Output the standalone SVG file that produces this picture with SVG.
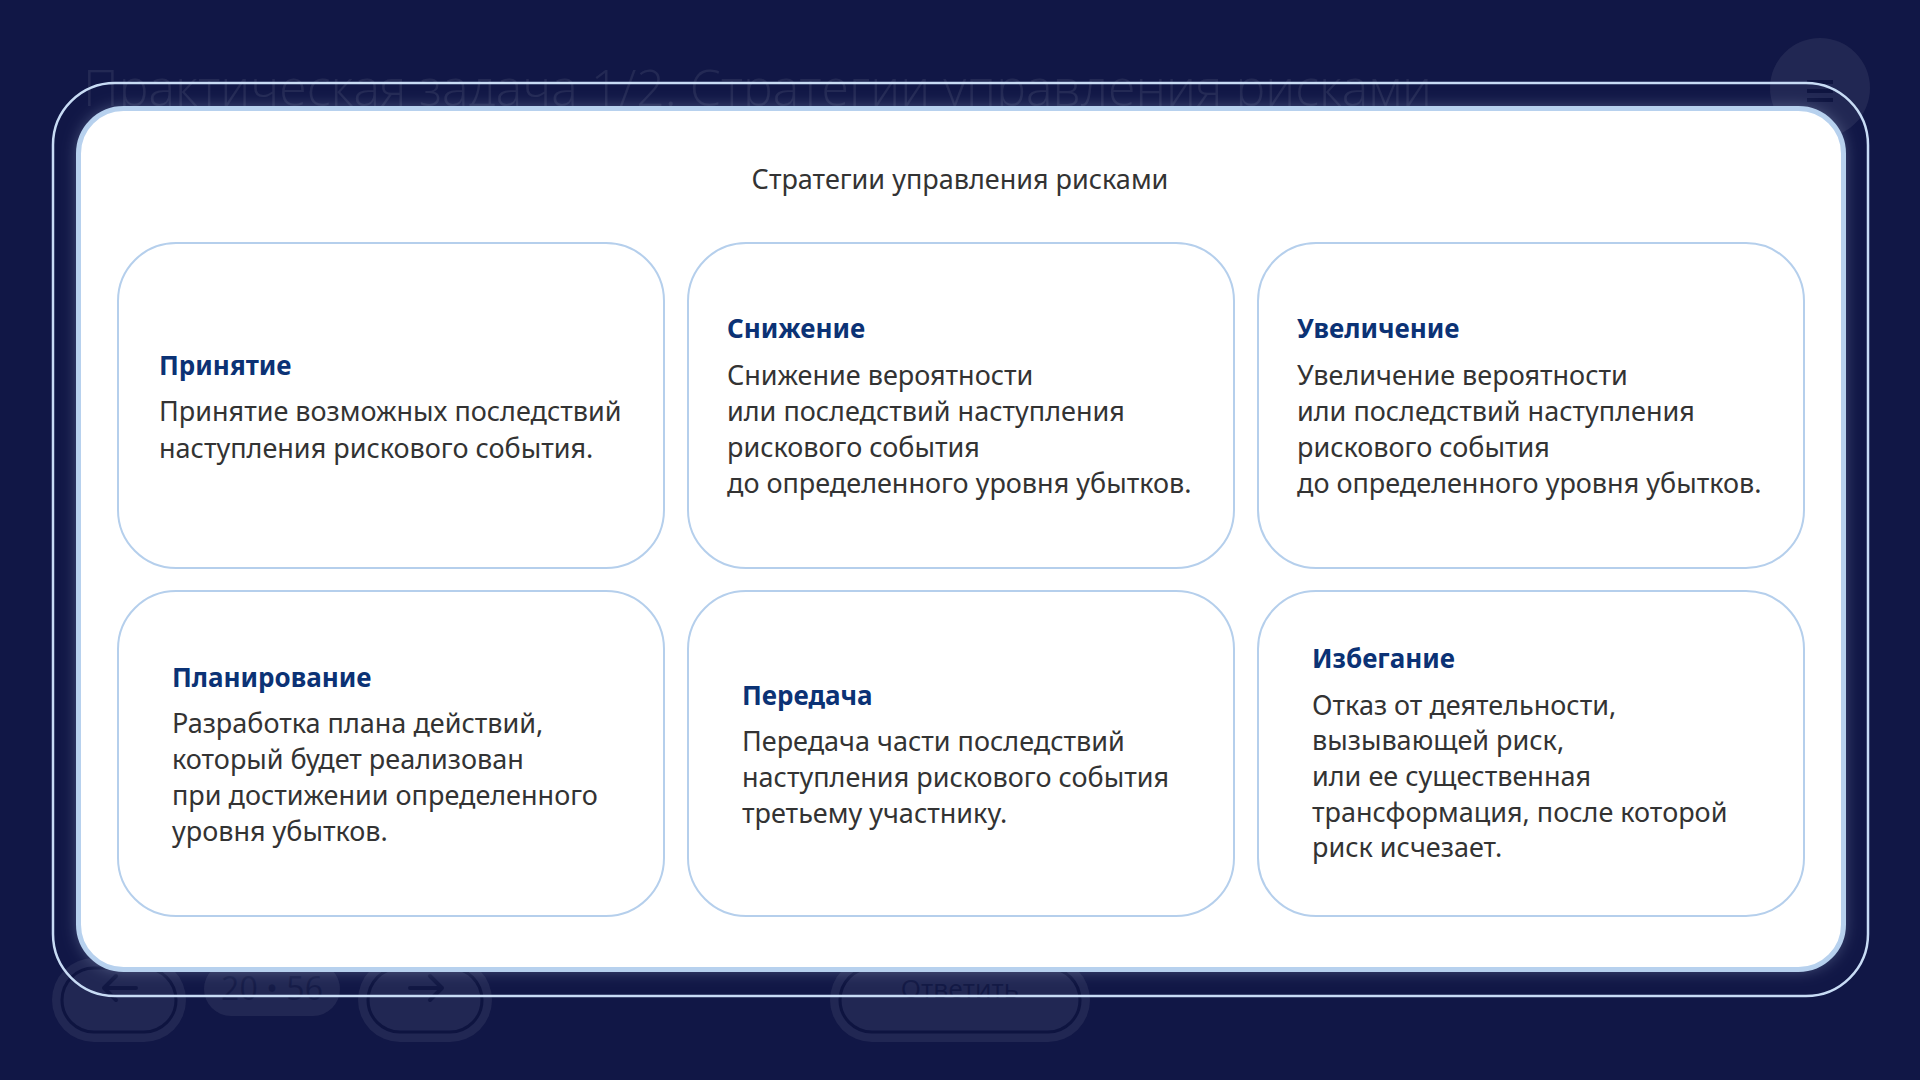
<svg xmlns="http://www.w3.org/2000/svg" width="1920" height="1080" viewBox="0 0 1920 1080">
  <defs>
    <filter id="glow" x="-5%" y="-5%" width="110%" height="110%">
      <feGaussianBlur stdDeviation="8"/>
    </filter>
    <style>
      .bg-faint { fill: #ffffff; fill-opacity: 0.07; }
      .icon { fill: none; stroke: #0e1440; stroke-width: 4; stroke-linecap: round; stroke-linejoin: round; stroke-opacity: 0.8; }
      .card { fill: #ffffff; stroke: #b5cfec; stroke-width: 2; }
      .head { font-family: "Noto Sans", "Open Sans", sans-serif; font-weight: 700; font-size: 26px; fill: #0b3275; }
      .body { font-family: "Noto Sans", "Open Sans", sans-serif; font-size: 27px; fill: #333333; }
      .title { font-family: "Noto Sans", "Open Sans", sans-serif; font-size: 27px; fill: #333333; }
    </style>
  </defs>

  <!-- background -->
  <rect x="0" y="0" width="1920" height="1080" fill="#111746"/>
  <g id="background-ui">
    <text x="83" y="106" font-family="Open Sans, Noto Sans, sans-serif" font-weight="300" font-size="50" fill="#ffffff" fill-opacity="0.08">Практическая задача 1/2. Стратегии управления рисками</text>
    <circle cx="1820" cy="88" r="50" class="bg-faint"/>
    <rect x="1807" y="80" width="26" height="4" fill="#0e1440"/>
    <rect x="1807" y="89" width="26" height="4" fill="#0e1440"/>
    <rect x="1807" y="98" width="26" height="4" fill="#0e1440"/>
    <rect x="52" y="958" width="134" height="84" rx="42" class="bg-faint"/>
    <rect x="62" y="968" width="114" height="64" rx="32" fill="none" stroke="#0e1440" stroke-width="3"/>
    <path class="icon" d="M136 988 H104 M116 976 L104 988 L116 1000"/>
    <rect x="204" y="962" width="136" height="54" rx="27" class="bg-faint"/>
    <text x="272" y="1000" text-anchor="middle" font-family="Open Sans, sans-serif" font-size="32" fill="#0e1440" fill-opacity="0.6">20 • 56</text>
    <rect x="358" y="958" width="134" height="84" rx="42" class="bg-faint"/>
    <rect x="368" y="968" width="114" height="64" rx="32" fill="none" stroke="#0e1440" stroke-width="3"/>
    <path class="icon" d="M410 988 H442 M430 976 L442 988 L430 1000"/>
    <rect x="830" y="958" width="260" height="84" rx="42" class="bg-faint"/>
    <rect x="840" y="968" width="240" height="64" rx="32" fill="none" stroke="#0e1440" stroke-width="3"/>
    <text x="960" y="998" text-anchor="middle" font-family="Open Sans, sans-serif" font-size="26" fill="#0e1440" fill-opacity="0.8">Ответить</text>
  </g>

  <!-- frame -->
  <g id="frame">
    <rect x="53" y="83" width="1815" height="913" rx="62" ry="62" fill="none" stroke="#c8dcf5" stroke-width="2.5"/>
    <rect x="78" y="108" width="1766" height="862" rx="45" fill="#c6dbf3" fill-opacity="0.35" filter="url(#glow)"/>
    <rect x="78.5" y="108.5" width="1765" height="861" rx="45" fill="#ffffff" stroke="#b7d1ee" stroke-width="5"/>
  </g>

  <g id="title">
    <text class="title" x="960" y="189" text-anchor="middle">Стратегии управления рисками</text>
  </g>

  <g id="node-prinyatie">
    <rect class="card" x="118" y="243" width="546" height="325" rx="58"/>
    <text class="head" x="159" y="375">Принятие</text>
    <text class="body" x="159" y="421">Принятие возможных последствий</text>
    <text class="body" x="159" y="458">наступления рискового события.</text>
  </g>

  <g id="node-snizhenie">
    <rect class="card" x="688" y="243" width="546" height="325" rx="58"/>
    <text class="head" x="727" y="338">Снижение</text>
    <text class="body" x="727" y="385">Снижение вероятности</text>
    <text class="body" x="727" y="421">или последствий наступления</text>
    <text class="body" x="727" y="457">рискового события</text>
    <text class="body" x="727" y="493">до определенного уровня убытков.</text>
  </g>

  <g id="node-uvelichenie">
    <rect class="card" x="1258" y="243" width="546" height="325" rx="58"/>
    <text class="head" x="1297" y="338">Увеличение</text>
    <text class="body" x="1297" y="385">Увеличение вероятности</text>
    <text class="body" x="1297" y="421">или последствий наступления</text>
    <text class="body" x="1297" y="457">рискового события</text>
    <text class="body" x="1297" y="493">до определенного уровня убытков.</text>
  </g>

  <g id="node-planirovanie">
    <rect class="card" x="118" y="591" width="546" height="325" rx="58"/>
    <text class="head" x="172" y="687">Планирование</text>
    <text class="body" x="172" y="733">Разработка плана действий,</text>
    <text class="body" x="172" y="769">который будет реализован</text>
    <text class="body" x="172" y="805">при достижении определенного</text>
    <text class="body" x="172" y="841">уровня убытков.</text>
  </g>

  <g id="node-peredacha">
    <rect class="card" x="688" y="591" width="546" height="325" rx="58"/>
    <text class="head" x="742" y="705">Передача</text>
    <text class="body" x="742" y="751">Передача части последствий</text>
    <text class="body" x="742" y="787">наступления рискового события</text>
    <text class="body" x="742" y="823">третьему участнику.</text>
  </g>

  <g id="node-izbeganie">
    <rect class="card" x="1258" y="591" width="546" height="325" rx="58"/>
    <text class="head" x="1312" y="668">Избегание</text>
    <text class="body" x="1312" y="715">Отказ от деятельности,</text>
    <text class="body" x="1312" y="750">вызывающей риск,</text>
    <text class="body" x="1312" y="786">или ее существенная</text>
    <text class="body" x="1312" y="822">трансформация, после которой</text>
    <text class="body" x="1312" y="857">риск исчезает.</text>
  </g>

  <g id="connectors"/>
</svg>
